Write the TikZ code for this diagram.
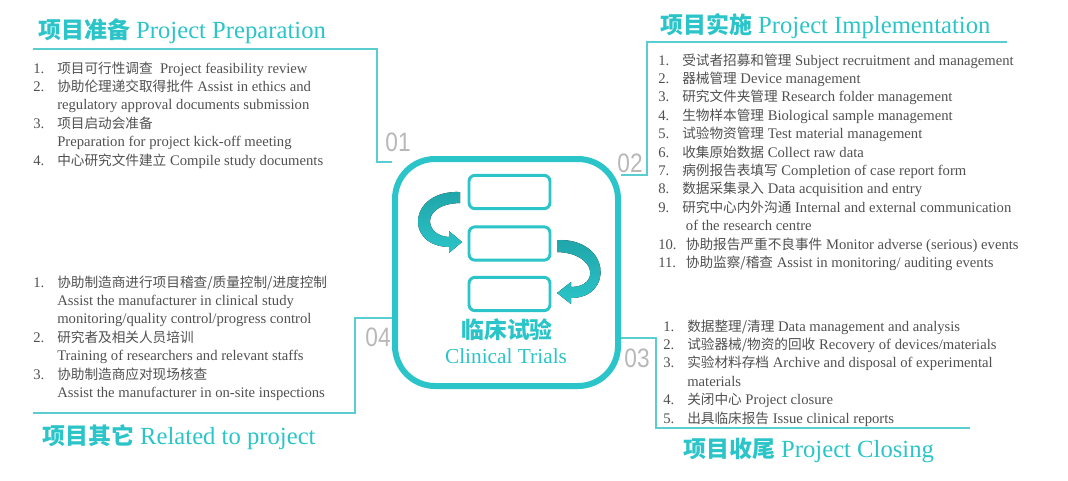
\documentclass[tikz,border=0pt]{standalone}
\usepackage{fontspec}
\setmainfont{Liberation Serif}
\newfontfamily\cjk[Scale=0.93]{Noto Sans CJK SC}
\newfontfamily\numfont[FakeStretch=0.85]{Liberation Sans}
\usetikzlibrary{backgrounds}

\definecolor{tealmain}{HTML}{2BC4C8}
\definecolor{tealdark}{HTML}{1FA5A9}
\definecolor{frameline}{HTML}{5ACDD0}
\definecolor{bodytext}{HTML}{505050}
\definecolor{taggray}{HTML}{B8B8B8}
\newcommand{\zh}[1]{{\cjk #1}}

\begin{document}
\begin{tikzpicture}[x=0.75pt,y=-0.75pt,
    title/.style={anchor=west, inner sep=0pt, text=tealmain, font=\fontsize{18.5}{22}\selectfont},
    items/.style={anchor=base west, inner sep=0pt, text=bodytext, font=\fontsize{11}{13.8}\selectfont},
    tag/.style={inner sep=0pt, text=taggray, font=\numfont\fontsize{20}{22}\selectfont},
    frame/.style={draw=frameline, line width=1.1pt},
    hub/.style={draw=tealmain, line width=4.5pt, fill=white, rounded corners=30pt,
        minimum width=167.25pt, minimum height=170.25pt},
    slot/.style={draw=tealmain, line width=2.2pt, rounded corners=4.5pt,
        minimum width=60.75pt, minimum height=25pt},
    ribbon/.style={top color=tealdark, middle color=tealmain, bottom color=tealmain}]
\useasboundingbox (0,0) rectangle (1068,480);

% center
\node[hub] (hub) at (506.5,272.5) {};
\node[slot] (slota) at (509.5,192) {};
\node[slot] (slotb) at (509.5,243.5) {};
\node[slot] (slotc) at (509.5,294) {};
\fill[ribbon] (460,192) .. controls (408,190) and (404,246) .. (449,247)
    -- (449,253) -- (462,242) -- (449,231) -- (449,237) .. controls (424,236) and (420,204) .. (460,203) -- cycle;
\fill[ribbon] (557,240) .. controls (611,238) and (614,298) .. (571,298)
    -- (571,304) -- (557,293) -- (571,282) -- (571,287) .. controls (600,287) and (597,253) .. (557,252) -- cycle;
\node[text=tealmain, font=\cjk\bfseries\fontsize{18.4}{20}\selectfont] (hubzh) at (507,330) {临床试验};
\node[text=tealmain, font=\fontsize{16}{18}\selectfont] (huben) at (506,356) {Clinical Trials};

% frames
\begin{scope}[on background layer]
\draw[frame] (33,49) -| (377,162) -- (hub.west |- 0,162);
\draw[frame] (hub.east |- 0,175) -| (647,42) -- (1007,42);
\draw[frame] (hub.east |- 0,338) -| (656,428) -- (970,428);
\draw[frame] (hub.west |- 0,318) -| (355,413) -- (33,413);
\end{scope}
\node[tag] (taga) at (398,142) {01};
\node[tag] (tagb) at (630,163) {02};
\node[tag] (tagc) at (637,358) {03};
\node[tag] (tagd) at (378,337) {04};

% titles
\node[title] (prep) at (38,31) {\zh{\bfseries 项目准备} Project Preparation};
\node[title] (impl) at (660,26) {\zh{\bfseries 项目实施} Project Implementation};
\node[title] (close) at (683,450) {\zh{\bfseries 项目收尾} Project Closing};
\node[title] (other) at (42,437) {\zh{\bfseries 项目其它} Related to project};

% lists
\node[items] (preplist) at (33,73) {\begin{tabular}[t]{@{}p{18pt}@{}l@{}}
1. & \zh{项目可行性调查}\ \ Project feasibility review\\
2. & \zh{协助伦理递交取得批件} Assist in ethics and\\
   & regulatory approval documents submission\\
3. & \zh{项目启动会准备}\\
   & Preparation for project kick-off meeting\\
4. & \zh{中心研究文件建立} Compile study documents
\end{tabular}};

\node[items] (impllist) at (658,65) {\begin{tabular}[t]{@{}p{18pt}@{}l@{}}
1. & \zh{受试者招募和管理} Subject recruitment and management\\
2. & \zh{器械管理} Device management\\
3. & \zh{研究文件夹管理} Research folder management\\
4. & \zh{生物样本管理} Biological sample management\\
5. & \zh{试验物资管理} Test material management\\
6. & \zh{收集原始数据} Collect raw data\\
7. & \zh{病例报告表填写} Completion of case report form\\
8. & \zh{数据采集录入} Data acquisition and entry\\
9. & \zh{研究中心内外沟通} Internal and external communication\\
   & \ of the research centre\\
10. & \ \zh{协助报告严重不良事件} Monitor adverse (serious) events\\
11. & \ \zh{协助监察/稽查} Assist in monitoring/ auditing events
\end{tabular}};

\node[items] (closelist) at (663,331) {\begin{tabular}[t]{@{}p{18pt}@{}l@{}}
1. & \zh{数据整理/清理} Data management and analysis\\
2. & \zh{试验器械/物资的回收} Recovery of devices/materials\\
3. & \zh{实验材料存档} Archive and disposal of experimental\\
   & materials\\
4. & \zh{关闭中心} Project closure\\
5. & \zh{出具临床报告} Issue clinical reports
\end{tabular}};

\node[items] (otherlist) at (33,287) {\begin{tabular}[t]{@{}p{18pt}@{}l@{}}
1. & \zh{协助制造商进行项目稽查/质量控制/进度控制}\\
   & Assist the manufacturer in clinical study\\
   & monitoring/quality control/progress control\\
2. & \zh{研究者及相关人员培训}\\
   & Training of researchers and relevant staffs\\
3. & \zh{协助制造商应对现场核查}\\
   & Assist the manufacturer in on-site inspections
\end{tabular}};
\end{tikzpicture}
\end{document}
